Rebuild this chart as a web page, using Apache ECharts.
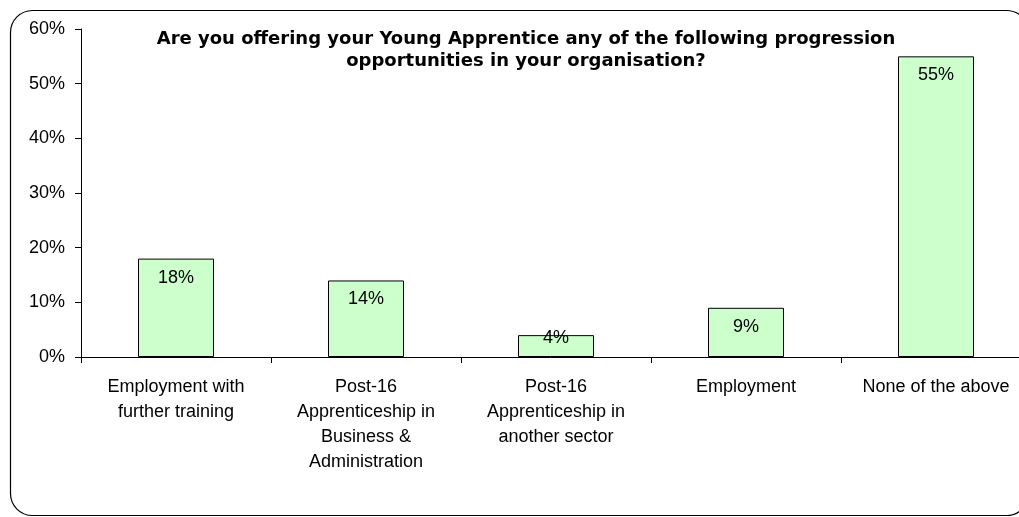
<!DOCTYPE html>
<html>
<head>
<meta charset="utf-8">
<script src="https://cdn.jsdelivr.net/npm/echarts@6/dist/echarts.min.js"></script>
<style>
  html, body { margin: 0; padding: 0; background: #fff; }
  #chart { width: 1019px; height: 517px; }
</style>
</head>
<body>
<div id="chart"></div>
<script>
// Progression opportunities offered to Young Apprentices (share of respondents, %)
const categories = [
  'Employment with\nfurther training',
  'Post-16\nApprenticeship in\nBusiness &\nAdministration',
  'Post-16\nApprenticeship in\nanother sector',
  'Employment',
  'None of the above'
];
const shares = [18, 14, 4, 9, 55];
const yTicks = [0, 10, 20, 30, 40, 50, 60];

// Short bars cannot hold their label inside, so it rides up over the bar top.
const barData = shares.map(v => (v < 5
  ? { value: v, label: { distance: -6 } }
  : v));

const chart = echarts.init(document.getElementById('chart'), null, { renderer: 'canvas' });

chart.setOption({
  animation: false,
  backgroundColor: '#fff',
  title: {
    text: 'Are you offering your Young Apprentice any of the following progression\nopportunities in your organisation?',
    left: 521,
    top: 23,
    textAlign: 'center',
    textStyle: {
      fontFamily: 'DejaVu Sans',
      fontWeight: 'bold',
      fontSize: 18,
      lineHeight: 22,
      color: '#000'
    }
  },
  graphic: [{
    type: 'rect',
    shape: { x: 10.5, y: 10.5, width: 1018, height: 505, r: 22 },
    style: { fill: 'none', stroke: '#000', lineWidth: 1.2 },
    silent: true,
    z: -1
  }],
  // the plot runs a little past the right edge of the page
  grid: { left: 81, width: 950, top: 29, bottom: 160, containLabel: false, outerBoundsMode: 'none' },
  xAxis: {
    type: 'category',
    data: categories,
    axisLine: { lineStyle: { color: '#000', width: 1 } },
    axisTick: { show: true, length: 6, lineStyle: { color: '#000' } },
    axisLabel: {
      interval: 0,
      margin: 18,
      fontFamily: 'Liberation Sans',
      fontSize: 18,
      lineHeight: 25,
      color: '#000',
      verticalAlign: 'top'
    }
  },
  yAxis: {
    type: 'value',
    min: 0,
    max: 60,
    interval: 10,
    axisLine: { show: true, lineStyle: { color: '#000', width: 1 } },
    axisTick: { show: true, length: 6, lineStyle: { color: '#000' } },
    splitLine: { show: false },
    axisLabel: {
      margin: 16,
      fontFamily: 'Liberation Sans',
      fontSize: 18,
      color: '#000',
      formatter: v => (yTicks.includes(v) ? v + '%' : '')
    }
  },
  series: [{
    type: 'bar',
    data: barData,
    barCategoryGap: '60%',
    itemStyle: { color: '#CCFFCC', borderColor: '#000', borderWidth: 1 },
    label: {
      show: true,
      position: 'insideTop',
      distance: 10,
      formatter: p => p.value + '%',
      fontFamily: 'Liberation Sans',
      fontSize: 18,
      color: '#000'
    }
  }]
});
</script>
</body>
</html>
